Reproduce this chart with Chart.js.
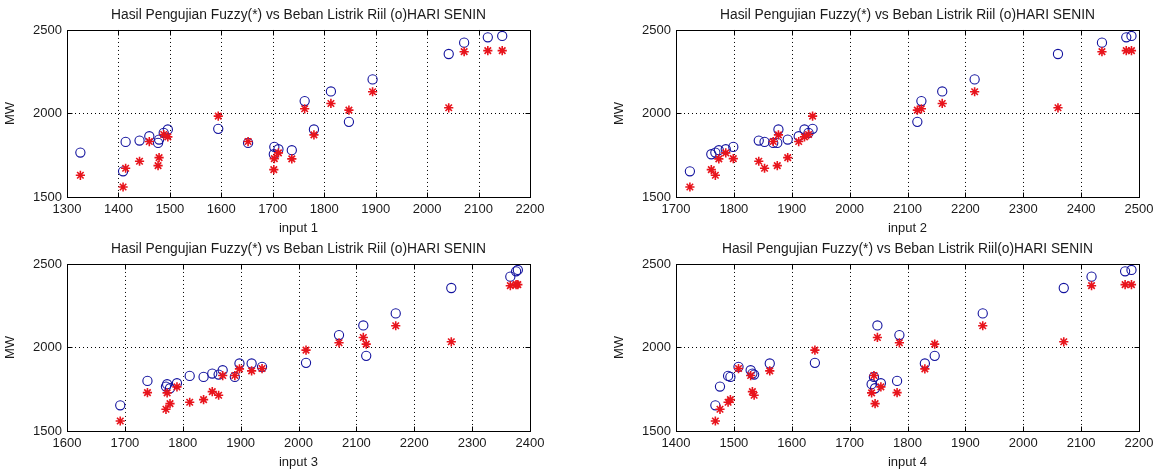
<!DOCTYPE html>
<html><head><meta charset="utf-8">
<script src="https://cdn.jsdelivr.net/npm/chart.js@4.4.1/dist/chart.umd.min.js"></script>
<style>
html,body{margin:0;padding:0;background:#fff;overflow:hidden;width:1157px;height:473px;}
canvas{position:absolute;}
</style></head><body>
<canvas id="c1" width="578" height="236" style="left:0;top:0"></canvas>
<canvas id="c2" width="548" height="236" style="left:609px;top:0"></canvas>
<canvas id="c3" width="578" height="236" style="left:0;top:234px"></canvas>
<canvas id="c4" width="548" height="236" style="left:609px;top:234px"></canvas>
<script>
// Observations (Monday load): real load (o) and fuzzy output (*)
const realLoad = [1766,1654,1830,1838,1864,1824,1844,1884,1904,1908,1824,1800,1756,1786,1780,2074,1904,2132,1950,2204,2356,2424,2456,2464];
const fuzzyOut = [1630,1560,1672,1714,1832,1688,1736,1874,1860,1984,1832,1730,1664,1764,1728,2028,1872,2060,2020,2130,2034,2370,2376,2376];
const input1 = [1326,1409,1414,1441,1460,1477,1479,1488,1496,1594,1652,1703,1702,1711,1737,1762,1780,1813,1848,1894,2042,2072,2118,2146];
const input2 = [1768,1724,1853,1843,1912,1875,1893,1929,1922,1936,1868,1799,1761,1786,1774,2124,1877,2160,2117,2216,2360,2436,2478,2487];
const input3 = [1771,1692,1812,1862,1869,1836,1851,1937,1919,2013,1890,1739,1778,1790,1773,2070,1898,2112,2117,2168,2264,2366,2376,2379];
const input4 = [1476,1468,1490,1535,1529,1494,1532,1508,1562,1640,1742,1782,1744,1754,1738,1786,1830,1748,1847,1930,2070,2118,2176,2187];

const xTicks1 = [1300,1400,1500,1600,1700,1800,1900,2000,2100,2200];
const xTicks2 = [1700,1800,1900,2000,2100,2200,2300,2400,2500];
const xTicks3 = [1600,1700,1800,1900,2000,2100,2200,2300,2400];
const xTicks4 = [1400,1500,1600,1700,1800,1900,2000,2100,2200];
const yTicks = [1500,2000,2500];

const titles = [
  'Hasil Pengujian Fuzzy(*) vs Beban Listrik Riil (o)HARI SENIN',
  'Hasil Pengujian Fuzzy(*) vs Beban Listrik Riil (o)HARI SENIN',
  'Hasil Pengujian Fuzzy(*) vs Beban Listrik Riil (o)HARI SENIN',
  'Hasil Pengujian Fuzzy(*) vs Beban Listrik Riil(o)HARI SENIN'
];
const xLabels = ['input 1','input 2','input 3','input 4'];
const yLabel = 'MW';

const FONT = "'Liberation Sans', Arial, Helvetica, sans-serif";
const TXT = '#1a1a1a';

const matlabAxes = {
  id: 'matlabAxes',
  beforeDatasetsDraw(chart) {
    const {ctx, chartArea: a, scales: {x, y}} = chart;
    ctx.save();
    ctx.strokeStyle = '#000';
    ctx.lineWidth = 1;
    ctx.setLineDash([1, 3]);
    x.ticks.forEach(t => {
      const px = Math.round(x.getPixelForValue(t.value)) + 0.5;
      if (px > a.left + 2 && px < a.right - 2) {
        ctx.beginPath(); ctx.moveTo(px, a.top); ctx.lineTo(px, a.bottom); ctx.stroke();
      }
    });
    y.ticks.forEach(t => {
      const py = Math.round(y.getPixelForValue(t.value)) + 0.5;
      if (py > a.top + 2 && py < a.bottom - 2) {
        ctx.beginPath(); ctx.moveTo(a.left, py); ctx.lineTo(a.right, py); ctx.stroke();
      }
    });
    ctx.restore();
  },
  afterDatasetsDraw(chart) {
    const {ctx, chartArea: a, scales: {x, y}} = chart;
    ctx.save();
    ctx.strokeStyle = '#000';
    ctx.lineWidth = 1;
    ctx.setLineDash([]);
    const L = Math.round(a.left) + 0.5, R = Math.round(a.right) + 0.5;
    const T = Math.round(a.top) + 0.5, B = Math.round(a.bottom) + 0.5;
    ctx.strokeRect(L, T, R - L, B - T);
    const tl = 5;
    ctx.beginPath();
    x.ticks.forEach(t => {
      const px = Math.round(x.getPixelForValue(t.value)) + 0.5;
      ctx.moveTo(px, B); ctx.lineTo(px, B - tl);
      ctx.moveTo(px, T); ctx.lineTo(px, T + tl);
    });
    y.ticks.forEach(t => {
      const py = Math.round(y.getPixelForValue(t.value)) + 0.5;
      ctx.moveTo(L, py); ctx.lineTo(L + tl, py);
      ctx.moveTo(R, py); ctx.lineTo(R - tl, py);
    });
    ctx.stroke();
    ctx.restore();
  }
};

function makeChart(id, xs, xTicks, title, xLabel) {
  const canvas = document.getElementById(id);
  const W = canvas.width;
  const toPts = (arr) => xs.map((v, i) => ({x: v, y: arr[i]}));
  new Chart(canvas, {
    type: 'scatter',
    data: {
      datasets: [
        {
          label: 'Fuzzy',
          data: toPts(fuzzyOut),
          pointStyle: 'star',
          pointRadius: 4.6,
          pointHoverRadius: 4.6,
          borderColor: '#e8141c',
          backgroundColor: '#e8141c',
          pointBorderWidth: 1.6,
          showLine: false,
          clip: false
        },
        {
          label: 'Riil',
          data: toPts(realLoad),
          pointStyle: 'circle',
          pointRadius: 4.6,
          pointHoverRadius: 4.6,
          borderColor: '#12129e',
          backgroundColor: 'rgba(0,0,0,0)',
          pointBorderWidth: 1.1,
          showLine: false,
          clip: false
        }
      ]
    },
    options: {
      responsive: false,
      animation: false,
      events: [],
      layout: {padding: {left: 0, right: W - 530, top: 0, bottom: 0}},
      plugins: {
        legend: {display: false},
        tooltip: {enabled: false},
        title: {
          display: true,
          fullSize: false,
          text: title,
          color: TXT,
          font: {family: FONT, size: 13.8, weight: 'normal', lineHeight: 1.2},
          padding: {top: 6.5, bottom: 6.9}
        }
      },
      scales: {
        x: {
          type: 'linear',
          min: xTicks[0],
          max: xTicks[xTicks.length - 1],
          afterBuildTicks: (s) => { s.ticks = xTicks.map(v => ({value: v})); },
          afterFit: (s) => { s.height = 39; s.paddingLeft = 0; s.paddingRight = 0; },
          grid: {display: false, drawTicks: false},
          border: {display: false},
          ticks: {
            color: TXT, font: {family: FONT, size: 13}, padding: 5,
            maxRotation: 0, autoSkip: false,
            callback: (v) => String(v)
          },
          title: {
            display: true, text: xLabel, color: TXT,
            font: {family: FONT, size: 13}, padding: {top: 0, bottom: 0}
          }
        },
        y: {
          type: 'linear',
          min: 1500,
          max: 2500,
          afterBuildTicks: (s) => { s.ticks = yTicks.map(v => ({value: v})); },
          afterFit: (s) => { s.width = 67; s.paddingTop = 0; s.paddingBottom = 0; },
          grid: {display: false, drawTicks: false},
          border: {display: false},
          ticks: {
            color: TXT, font: {family: FONT, size: 13}, padding: 5,
            autoSkip: false,
            callback: (v) => String(v)
          },
          title: {
            display: true, text: yLabel, color: TXT,
            font: {family: FONT, size: 13}, padding: {top: 3, bottom: 0}
          }
        }
      }
    },
    plugins: [matlabAxes]
  });
}

makeChart('c1', input1, xTicks1, titles[0], xLabels[0]);
makeChart('c2', input2, xTicks2, titles[1], xLabels[1]);
makeChart('c3', input3, xTicks3, titles[2], xLabels[2]);
makeChart('c4', input4, xTicks4, titles[3], xLabels[3]);
</script>
</body></html>
